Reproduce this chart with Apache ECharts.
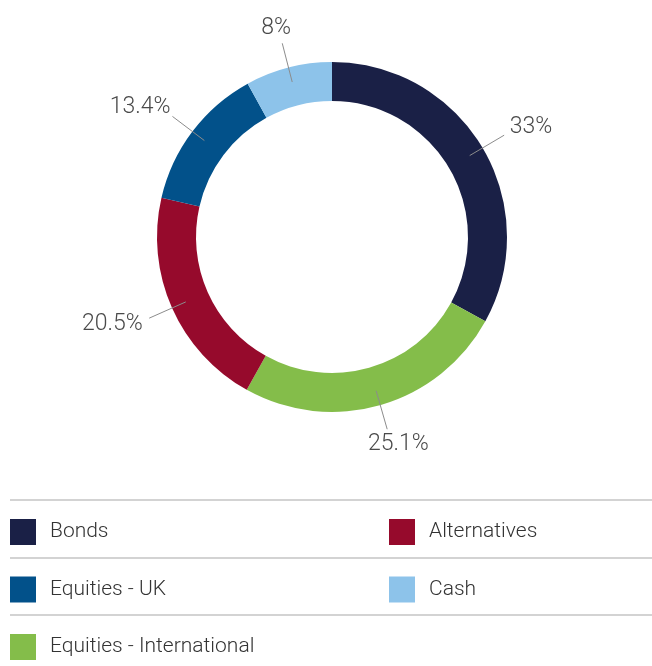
<!DOCTYPE html>
<html>
<head>
<meta charset="utf-8">
<script src="https://cdn.jsdelivr.net/npm/echarts@6/dist/echarts.min.js"></script>
<style>
  html, body { margin: 0; padding: 0; background: #fff; }
  #chart { width: 652px; height: 666px; }
</style>
</head>
<body>
<div id="chart"></div>
<script>
// 数据
const categories = ['Bonds', 'Equities - International', 'Alternatives', 'Equities - UK', 'Cash'];
const values = [33, 25.1, 20.5, 13.4, 8];
const colors = ['#1a2046', '#84bd4a', '#960a2c', '#02518a', '#8dc3ea'];
// 图例分两列
const legendLeft = ['Bonds', 'Equities - UK', 'Equities - International'];
const legendRight = ['Alternatives', 'Cash'];

const FONT = 'Roboto, "Liberation Sans", sans-serif';

const pieData = categories.map((name, i) => ({
  name: name,
  value: values[i],
  itemStyle: { color: colors[i] }
}));

let chart = echarts.init(document.getElementById('chart'));

// 标签放在引导线末端外侧
function placeLabel(params) {
  const pts = params.labelLinePoints;
  if (!pts) return {};
  const p0 = pts[0];
  const p1 = pts[pts.length - 1];
  let ux = p1[0] - p0[0];
  let uy = p1[1] - p0[1];
  const len = Math.sqrt(ux * ux + uy * uy) || 1;
  ux /= len;
  uy /= len;
  const w = params.labelRect.width;
  const h = params.labelRect.height;
  return {
    x: p1[0] + ux * (w / 2 + 10),
    y: p1[1] + uy * (h / 2 + 4),
    align: 'center',
    verticalAlign: 'middle',
    labelLinePoints: [p0, p1]
  };
}

const legendText = { fontSize: 21, color: '#333', fontFamily: FONT, fontWeight: 300, padding: [0, 0, 0, 9] };

const option = {
  animation: false,
  backgroundColor: '#fff',
  legend: [
    {
      orient: 'vertical',
      left: 10,
      top: 519,
      padding: 0,
      itemWidth: 26,
      itemHeight: 26,
      itemGap: 31.5,
      icon: 'rect',
      selectedMode: false,
      data: legendLeft,
      textStyle: legendText
    },
    {
      orient: 'vertical',
      left: 389,
      top: 519,
      padding: 0,
      itemWidth: 26,
      itemHeight: 26,
      itemGap: 31.5,
      icon: 'rect',
      selectedMode: false,
      data: legendRight,
      textStyle: legendText
    }
  ],
  graphic: [500, 558, 615].map((y) => ({
    type: 'line',
    shape: { x1: 10, y1: y, x2: 652, y2: y },
    style: { stroke: '#c4c4c4', lineWidth: 1.5 },
    silent: true
  })),
  series: [
    {
      // 环形
      type: 'pie',
      center: [332, 237],
      radius: [136, 175],
      startAngle: 90,
      silent: true,
      label: { show: false },
      labelLine: { show: false },
      emphasis: { disabled: true },
      data: pieData
    },
    {
      // 透明层，只用来画标签和引导线
      type: 'pie',
      center: [332, 237],
      radius: [0, 160],
      startAngle: 90,
      z: 5,
      silent: true,
      avoidLabelOverlap: false,
      emphasis: { disabled: true },
      itemStyle: { color: 'rgba(0,0,0,0)' },
      label: {
        show: true,
        position: 'outside',
        formatter: '{c}%',
        fontSize: 23,
        fontFamily: FONT,
        fontWeight: 300,
        color: '#4a4a4a'
      },
      labelLine: {
        show: true,
        length: 40,
        length2: 0,
        smooth: false,
        lineStyle: { color: '#8c8c8c', width: 1 }
      },
      labelLayout: placeLabel,
      data: categories.map((name, i) => ({ name: name, value: values[i] }))
    }
  ]
};

chart.setOption(option);
</script>
</body>
</html>
